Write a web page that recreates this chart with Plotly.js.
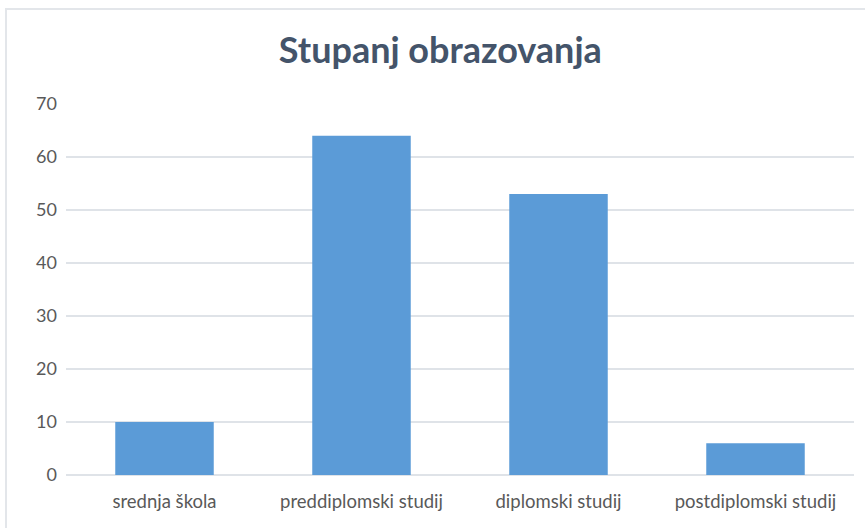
<!DOCTYPE html>
<html>
<head>
<meta charset="utf-8">
<script src="https://cdn.plot.ly/plotly-3.0.1.min.js"></script>
<style>
  html, body { margin: 0; padding: 0; background: #ffffff; }
  #frame { position: absolute; left: 5px; top: 8px; width: 860px; height: 520px;
           border-top: 2px solid #e3e6ea; border-left: 2px solid #e3e6ea; box-sizing: border-box; background:#fff; }
  #chart { position: absolute; left: 0; top: 0; width: 858px; height: 518px; }
</style>
</head>
<body>
<div id="frame"><div id="chart"></div></div>
<script>
const categories = ["srednja škola", "preddiplomski studij", "diplomski studij", "postdiplomski studij"];
const values = [10, 64, 53, 6];
const yTicks = [0, 10, 20, 30, 40, 50, 60, 70];
const chartTitle = "Stupanj obrazovanja";

const trace = {
  type: "bar",
  x: categories,
  y: values,
  width: 0.5,
  marker: { color: "#5b9bd7", line: { width: 0 } },
  hoverinfo: "x+y"
};

const layout = {
  width: 858,
  height: 518,
  margin: { l: 59, r: 11, t: 94, b: 53 },
  paper_bgcolor: "#ffffff",
  plot_bgcolor: "#ffffff",
  showlegend: false,
  title: {
    text: chartTitle,
    font: { family: "Lato, 'Open Sans', sans-serif", size: 36, color: "#44546a", weight: "bold" },
    x: 0.505, xanchor: "center",
    y: 0.922, yanchor: "middle"
  },
  xaxis: {
    type: "category",
    showgrid: false,
    zeroline: false,
    showline: false,
    ticks: "",
    tickfont: { family: "Lato, 'Open Sans', sans-serif", size: 18.5, color: "#595959" },
    ticklabelstandoff: 13
  },
  yaxis: {
    range: [0, 70],
    tickvals: yTicks,
    ticktext: yTicks.map(String),
    showgrid: true,
    gridcolor: "#dfe3e8",
    gridwidth: 2,
    zeroline: true,
    zerolinecolor: "#dfe3e8",
    zerolinewidth: 2,
    showline: false,
    ticks: "",
    tickfont: { family: "Lato, 'Open Sans', sans-serif", size: 18, color: "#595959" },
    ticklabelstandoff: 8
  },
  bargap: 0.5
};

Plotly.newPlot("chart", [trace], layout, { displayModeBar: false, staticPlot: true });
</script>
</body>
</html>
